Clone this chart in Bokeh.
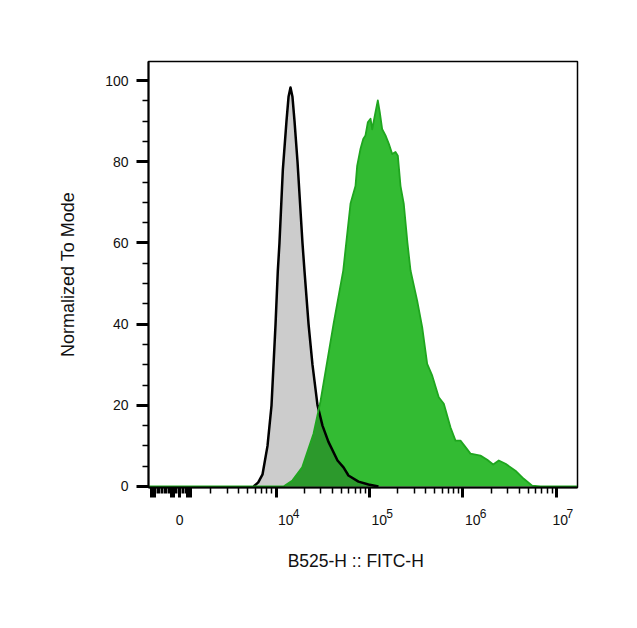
import numpy as np
from bokeh.plotting import figure
from bokeh.models import FixedTicker, Range1d, LinearAxis
from bokeh.embed import file_html
from bokeh.resources import INLINE

# ---------------- data ----------------
# x: log10 of B525-H :: FITC-H fluorescence, y: normalized to mode (%)
iso_log = [3.76, 3.81, 3.856, 3.909, 3.952, 3.995, 4.019, 4.037, 4.073, 4.112, 4.134,
           4.155, 4.176, 4.198, 4.23, 4.283, 4.305, 4.348, 4.39, 4.444, 4.497, 4.561,
           4.658, 4.722, 4.775, 4.882, 4.989, 5.096]
iso_val = [0, 1, 3, 10, 20, 40, 53, 60, 78, 90, 96,
           98.3, 96, 90, 80, 60, 53, 40, 30, 20, 15, 11,
           6.4, 4.7, 2.7, 1.2, 0.5, 0]

stain_log = [2.64, 4.08, 4.176, 4.28, 4.401, 4.476, 4.615, 4.719, 4.797, 4.850, 4.868,
             4.904, 4.933, 4.957, 4.982, 5.011, 5.029, 5.064, 5.089, 5.110, 5.136, 5.171,
             5.207, 5.243, 5.278, 5.303, 5.332, 5.367, 5.406, 5.439, 5.51, 5.564, 5.617,
             5.671, 5.741, 5.795, 5.866, 5.92, 5.973, 6.027, 6.08, 6.187, 6.259, 6.323,
             6.383, 6.455, 6.561, 6.65, 6.74, 6.829, 7.22]
stain_val = [0, 0, 1.5, 4.7, 13, 21, 40, 53.2, 69.7, 74, 79,
             83.2, 85.6, 86.5, 89.7, 90.6, 88, 92.2, 95.1, 92.2, 88, 86.5,
             84.4, 81.9, 82.4, 81.5, 74, 69.6, 60, 53.2, 45.8, 39.2, 30.2,
             27.3, 22, 20.4, 14.6, 11.3, 11.3, 9.7, 8.1, 7.6, 6.6, 5.4,
             6.4, 5.6, 3.9, 1.9, 0.2, 0, 0]

# axis tick definitions
decades = [4, 5, 6, 7]
decade_base = "10"
decade_exps = ["4", "5", "6", "7"]
y_major = [0, 20, 40, 60, 80, 100]
y_minor = [5, 10, 15, 25, 30, 35, 45, 50, 55, 65, 70, 75, 85, 90, 95]
lin_long = [-5000, -4750, -4500, -1500, -1250, -1000, 1500, 1750, 2000]   # linear-region ticks
lin_short = [-4250, -4000, -3750, -3500, -3250, -3000, -2750, -2500, -2250, -2000, -1750,
             -750, -500, -250, 250, 500, 750, 1000, 1250]

ZERO_POS = 2.968      # display position of 0 on the biexponential axis
LIN_SLOPE = 6.0e-5    # decades per unit in linear region


def lin_pos(v):
    return ZERO_POS + v * LIN_SLOPE


x_lo, x_hi = 2.636, 7.225
y_lo, y_hi = -0.25, 104.7

FONT = "Liberation Sans"
NB = "\u00a0"

p = figure(frame_width=429, frame_height=426,
           min_border_left=148, min_border_top=61, min_border_right=45, min_border_bottom=125,
           x_range=Range1d(x_lo, x_hi), y_range=Range1d(y_lo, y_hi),
           output_backend="svg", toolbar_location=None, tools="")
p.background_fill_color = "white"
p.border_fill_color = "white"
p.grid.visible = False
p.outline_line_color = "black"
p.outline_line_width = 1.5

# fills
gx = np.linspace(3.7, 5.2, 700)
gi = np.interp(gx, iso_log, iso_val, left=0, right=0)
gs = np.interp(gx, stain_log, stain_val, left=0, right=0)
p.varea(x=iso_log, y1=0, y2=iso_val, fill_color="#cccccc")
p.varea(x=stain_log, y1=0, y2=stain_val, fill_color="#33bb33")
p.varea(x=gx, y1=0, y2=np.minimum(gi, gs), fill_color="#2c992c")
# outlines
p.line(iso_log, iso_val, line_color="black", line_width=2.5, line_join="round")
p.line(stain_log, stain_val, line_color="#1fa61f", line_width=1.8, line_join="round")

# ---- x axis: ticks + "0" + "10" ----
minor_pos = [lin_pos(v) for v in lin_short]
for n in range(3, 7):
    for k in range(2, 10):
        val = np.log10(k * 10 ** n)
        if x_lo < val < x_hi:
            minor_pos.append(float(val))
major_pos = [lin_pos(0)] + [float(d) for d in decades] + [lin_pos(v) for v in lin_long]
overrides = {lin_pos(0): "0"}
base_pad = [5, 5, 5, 2]
for d, pad in zip(decades, base_pad):
    overrides[float(d)] = NB * pad + decade_base
for v in lin_long:
    overrides[lin_pos(v)] = ""

xa = p.xaxis[0]
xa.ticker = FixedTicker(ticks=major_pos, minor_ticks=minor_pos)
xa.major_label_overrides = overrides

# ---- second x axis: superscript exponents + axis title ----
sup_pad = [12, 12, 12, 8]
xs = LinearAxis(ticker=FixedTicker(ticks=[float(d) for d in decades], minor_ticks=[]),
                major_label_overrides={float(d): NB * pad + e
                                       for d, e, pad in zip(decades, decade_exps, sup_pad)})
xs.axis_line_color = None
xs.major_tick_line_color = None
xs.minor_tick_line_color = None
xs.major_tick_out = 0
xs.major_tick_in = 0
xs.minor_tick_out = 0
xs.major_label_standoff = -24
xs.major_label_text_font = FONT
xs.major_label_text_font_size = "12px"
xs.major_label_text_color = "#111111"
xs.axis_label = "B525-H :: FITC-H" + NB * 3
xs.axis_label_standoff = 27
xs.axis_label_text_font = FONT
xs.axis_label_text_font_size = "17.5px"
xs.axis_label_text_font_style = "normal"
xs.axis_label_text_color = "#111111"
p.add_layout(xs, "below")

ya = p.yaxis[0]
ya.ticker = FixedTicker(ticks=y_major, minor_ticks=y_minor)
ya.axis_label = "Normalized To Mode"

for ax in (xa, ya):
    ax.axis_line_color = "black"
    ax.axis_line_width = 2
    ax.major_tick_line_color = "black"
    ax.minor_tick_line_color = "black"
    ax.major_tick_line_width = 3
    ax.minor_tick_line_width = 1.5
    ax.major_tick_in = 0
    ax.minor_tick_in = 0
    ax.major_label_text_font = FONT
    ax.major_label_text_font_size = "14px"
    ax.major_label_text_color = "#111111"
    ax.axis_label_text_font = FONT
    ax.axis_label_text_font_size = "18px"
    ax.axis_label_text_font_style = "normal"
    ax.axis_label_text_color = "#111111"

xa.major_tick_out = 10
xa.minor_tick_out = 6
xa.major_label_standoff = 14
ya.major_tick_out = 12
ya.minor_tick_out = 6
ya.major_label_standoff = 8
ya.axis_label_standoff = 24

open("out.html", "w").write(file_html(p, INLINE))
